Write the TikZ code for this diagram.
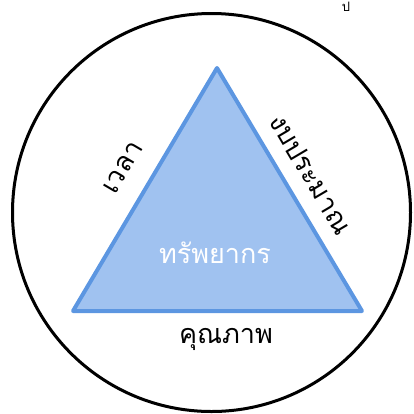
\documentclass[tikz,border=0pt]{standalone}
\usepackage{fontspec}
\newfontfamily\thaifont[Script=Thai]{Loma}
\definecolor{trifill}{RGB}{160,194,240}
\definecolor{triedge}{RGB}{92,150,225}
\tikzset{
  lbl/.style={font=\thaifont\fontsize{27}{30}\selectfont, inner sep=0pt},
}
\begin{document}
\begin{tikzpicture}[x=1pt,y=-1pt]
\useasboundingbox (0,0) rectangle (414,413);
\draw[line width=3pt] (211.5,212.5) circle (199);
\coordinate (T) at (217,68);
\coordinate (L) at (73,311);
\coordinate (R) at (362,311);
\draw[fill=trifill, draw=triedge, line width=4pt, line join=round] (T) -- (L) -- (R) -- cycle;
\node[lbl, text=white] (res) at (215,253) {ทรัพยากร};
\node[lbl] (qual) at (226,339) {คุณภาพ};
\node[lbl, rotate=59.6] (time) at (123,168) {เวลา};
\node[lbl, rotate=-59.4] (budget) at (311,174) {งบประมาณ};
\node[font=\thaifont\fontsize{13}{14}\selectfont, inner sep=0pt] (top) at (346,7) {ป};
\end{tikzpicture}
\end{document}
